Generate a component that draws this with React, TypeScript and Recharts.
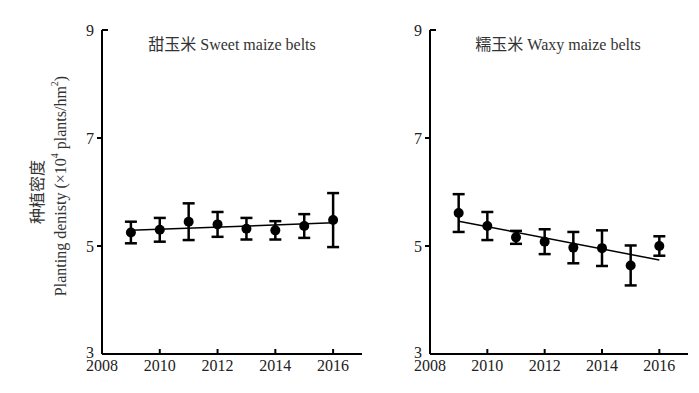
import React from 'react'
import { ComposedChart, Line, XAxis, YAxis, ErrorBar } from 'recharts'

const FONT = '"Liberation Serif", "Times New Roman", "Noto Sans CJK SC", serif'

const years = [2009, 2010, 2011, 2012, 2013, 2014, 2015, 2016]
const sweetMean = [5.25, 5.3, 5.45, 5.4, 5.32, 5.29, 5.37, 5.48]
const sweetErr = [0.2, 0.22, 0.34, 0.23, 0.2, 0.17, 0.22, 0.5]
const waxyMean = [5.61, 5.37, 5.16, 5.08, 4.97, 4.96, 4.64, 5.0]
const waxyErr = [0.35, 0.26, 0.12, 0.23, 0.29, 0.33, 0.37, 0.18]
const fitYears = [2009, 2016]
const sweetFit = [5.29, 5.43]
const waxyFit = [5.46, 4.74]
const xTicks = [2008, 2010, 2012, 2014, 2016]
const yTicks = [3, 5, 7, 9]

function XTick({ x, y, payload }: any) {
  return (
    <g>
      <line x1={x} y1={y} x2={x} y2={y - 5} stroke="#000" strokeWidth={2} />
      <text x={x} y={y + 17} textAnchor="middle" fontSize={16} fill="#222" fontFamily={FONT}>
        {payload.value}
      </text>
    </g>
  )
}

function YTick({ x, y, payload }: any) {
  const v = payload.value
  return (
    <g>
      {v === 9 && <line x1={x} y1={y} x2={x + 6} y2={y} stroke="#000" strokeWidth={2} />}
      {v !== 9 && v !== 3 && <line x1={x - 5} y1={y} x2={x} y2={y} stroke="#000" strokeWidth={2} />}
      <text x={x - 8} y={v === 3 ? y - 2 : y} dy="0.35em" textAnchor="end" fontSize={16} fill="#222" fontFamily={FONT}>
        {v}
      </text>
    </g>
  )
}

interface PanelProps {
  means: number[]
  errs: number[]
  fit: number[]
  left: number
  width: number
  axisWidth: number
  right: number
}

function Panel({ means, errs, fit, left, width, axisWidth, right }: PanelProps) {
  const data = years.map((year, i) => ({ year, mean: means[i], err: errs[i] }))
  const fitData = fitYears.map((year, i) => ({ year, fit: fit[i] }))
  return (
    <div style={{ position: 'absolute', left, top: 0 }}>
      <ComposedChart width={width} height={393} data={data} margin={{ top: 30, right, bottom: 0, left: 0 }}>
        <XAxis
          dataKey="year"
          type="number"
          domain={[2008, 2017]}
          ticks={xTicks}
          allowDataOverflow
          height={39}
          tickSize={0}
          tickMargin={0}
          tickLine={false}
          axisLine={{ stroke: '#000', strokeWidth: 2 }}
          tick={<XTick />}
        />
        <YAxis
          type="number"
          domain={[3, 9]}
          ticks={yTicks}
          allowDataOverflow
          width={axisWidth}
          tickSize={0}
          tickMargin={0}
          tickLine={false}
          axisLine={{ stroke: '#000', strokeWidth: 2 }}
          tick={<YTick />}
        />
        <Line
          data={fitData}
          dataKey="fit"
          stroke="#000"
          strokeWidth={1.5}
          dot={false}
          isAnimationActive={false}
        />
        <Line
          dataKey="mean"
          stroke="none"
          dot={{ r: 5, fill: '#000', stroke: '#000', strokeWidth: 0 }}
          activeDot={false}
          isAnimationActive={false}
        >
          <ErrorBar dataKey="err" width={6} stroke="#000" strokeWidth={2.5} direction="y" />
        </Line>
      </ComposedChart>
    </div>
  )
}

export default function App() {
  return (
    <div style={{ position: 'absolute', left: 0, top: 0, width: 699, height: 393, background: '#fff' }}>
      <Panel means={sweetMean} errs={sweetErr} fit={sweetFit} left={0} width={370} axisWidth={102} right={8} />
      <Panel means={waxyMean} errs={waxyErr} fit={waxyFit} left={340} width={359} axisWidth={90} right={11} />
      <svg
        width={699}
        height={393}
        style={{ position: 'absolute', left: 0, top: 0, pointerEvents: 'none' }}
        fontFamily={FONT}
        fontSize={16}
        fill="#333"
      >
        <text x={232} y={44} textAnchor="middle" dominantBaseline="central">甜玉米 Sweet maize belts</text>
        <text x={558} y={44} textAnchor="middle" dominantBaseline="central">糯玉米 Waxy maize belts</text>
        <text x={37} y={192} textAnchor="middle" dominantBaseline="central" transform="rotate(-90 37 192)">
          种植密度
        </text>
        <text x={60} y={186} textAnchor="middle" dominantBaseline="central" transform="rotate(-90 60 186)">
          Planting denisty (×10
          <tspan dy={-6} fontSize={10}>4</tspan>
          <tspan dy={6}> plants/hm</tspan>
          <tspan dy={-6} fontSize={10}>2</tspan>
          <tspan dy={6}>)</tspan>
        </text>
      </svg>
    </div>
  )
}
